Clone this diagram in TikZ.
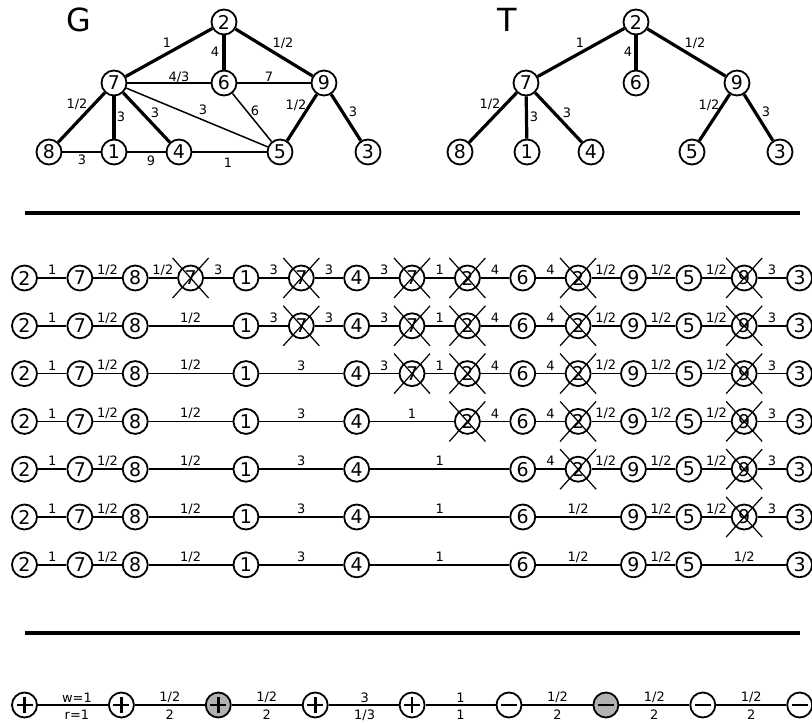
\documentclass[tikz,border=0pt]{standalone}
\usepackage{fontspec}
\setmainfont{DejaVu Sans}
\usetikzlibrary{positioning}

\begin{document}
\begin{tikzpicture}[x=1bp, y=-1bp,
        vert/.style={circle, draw, line width=1.8bp, minimum size=25bp, inner sep=0pt,
            fill=white, font=\fontsize{19}{19}\selectfont},
        wt/.style={font=\fontsize{13}{13}\selectfont, inner sep=0pt},
        heavy/.style={line width=3.2bp},
        light/.style={line width=1.5bp},
        chain/.style={line width=1.5bp},
        cross/.style={line width=1.2bp},
        rule/.style={line width=3.5bp},
        sign/.style={line width=2.6bp},
        pnode/.style={vert, path picture={
            \draw[sign] ([xshift=-8bp]path picture bounding box.center) -- ([xshift=8bp]path picture bounding box.center);
            \draw[sign] ([yshift=-8bp]path picture bounding box.center) -- ([yshift=8bp]path picture bounding box.center);}},
        mnode/.style={vert, path picture={
            \draw[sign] ([xshift=-8bp]path picture bounding box.center) -- ([xshift=8bp]path picture bounding box.center);}}
    ]
        \useasboundingbox (0,0) rectangle (812,723);

        % graph G
        \node[font=\fontsize{32}{32}\selectfont] (gname) at (79,20) {G};
        \node[vert] (g2) at (224,22) {2};
        \node[vert] (g7) at (114,83) {7};
        \node[vert] (g6) at (224,83) {6};
        \node[vert] (g9) at (324,83) {9};
        \node[vert] (g8) at (49,152) {8};
        \node[vert] (g1) at (114,152) {1};
        \node[vert] (g4) at (179,152) {4};
        \node[vert] (g5) at (280,152) {5};
        \node[vert] (g3) at (368,152) {3};

        \draw[heavy] (g2) -- node[wt, shift={(-2,-9.5)}] {1} (g7);
        \draw[heavy] (g2) -- node[wt, shift={(-9,-0.5)}] {4} (g6);
        \draw[heavy] (g2) -- node[wt, shift={(9,-9.5)}] {1/2} (g9);
        \draw[heavy] (g7) -- node[wt, shift={(-4.5,-13.5)}] {1/2} (g8);
        \draw[heavy] (g7) -- node[wt, shift={(7,-0.5)}] {3} (g1);
        \draw[heavy] (g7) -- node[wt, shift={(8.5,-4.5)}] {3} (g4);
        \draw[heavy] (g9) -- node[wt, shift={(-6,-12.5)}] {1/2} (g5);
        \draw[heavy] (g9) -- node[wt, shift={(7,-5.5)}] {3} (g3);
        \draw[light] (g7) -- node[wt, shift={(10,-6)}] {4/3} (g6);
        \draw[light] (g6) -- node[wt, shift={(-5,-6)}] {7} (g9);
        \draw[light] (g7) -- node[wt, shift={(6,-7.5)}] {3} (g5);
        \draw[light] (g6) -- node[wt, shift={(3,-6.5)}] {6} (g5);
        \draw[light] (g8) -- node[wt, shift={(0.5,8)}] {3} (g1);
        \draw[light] (g1) -- node[wt, shift={(4.5,9)}] {9} (g4);
        \draw[light] (g4) -- node[wt, shift={(-1.5,11)}] {1} (g5);

        % tree T
        \node[font=\fontsize{32}{32}\selectfont] (tname) at (507,20) {T};
        \node[vert] (t2) at (636,22) {2};
        \node[vert] (t7) at (526,83) {7};
        \node[vert] (t6) at (636,83) {6};
        \node[vert] (t9) at (737,83) {9};
        \node[vert] (t8) at (460,152) {8};
        \node[vert] (t1) at (527,152) {1};
        \node[vert] (t4) at (591,152) {4};
        \node[vert] (t5) at (692,152) {5};
        \node[vert] (t3) at (780,152) {3};

        \draw[heavy] (t2) -- node[wt, shift={(-1,-9.5)}] {1} (t7);
        \draw[heavy] (t2) -- node[wt, shift={(-8,-0.5)}] {4} (t6);
        \draw[heavy] (t2) -- node[wt, shift={(8.5,-9.5)}] {1/2} (t9);
        \draw[heavy] (t7) -- node[wt, shift={(-3,-13.5)}] {1/2} (t8);
        \draw[heavy] (t7) -- node[wt, shift={(7.5,-0.5)}] {3} (t1);
        \draw[heavy] (t7) -- node[wt, shift={(8.5,-4.5)}] {3} (t4);
        \draw[heavy] (t9) -- node[wt, shift={(-5.5,-12.5)}] {1/2} (t5);
        \draw[heavy] (t9) -- node[wt, shift={(7.5,-5.5)}] {3} (t3);

        \draw[rule] (25,213) -- (800,213);
        \draw[rule] (25,633) -- (800,633);

        % path rows
        \foreach \r/\vlist/\elist in {
            1/{0/2/0,1/7/0,2/8/0,3/7/1,4/1/0,5/7/1,6/4/0,7/7/1,8/2/1,9/6/0,10/2/1,11/9/0,12/5/0,13/9/1,14/3/0}/{0/1/1,1/2/{1/2},2/3/{1/2},3/4/3,4/5/3,5/6/3,6/7/3,7/8/1,8/9/4,9/10/4,10/11/{1/2},11/12/{1/2},12/13/{1/2},13/14/3},
            2/{0/2/0,1/7/0,2/8/0,4/1/0,5/7/1,6/4/0,7/7/1,8/2/1,9/6/0,10/2/1,11/9/0,12/5/0,13/9/1,14/3/0}/{0/1/1,1/2/{1/2},2/4/{1/2},4/5/3,5/6/3,6/7/3,7/8/1,8/9/4,9/10/4,10/11/{1/2},11/12/{1/2},12/13/{1/2},13/14/3},
            3/{0/2/0,1/7/0,2/8/0,4/1/0,6/4/0,7/7/1,8/2/1,9/6/0,10/2/1,11/9/0,12/5/0,13/9/1,14/3/0}/{0/1/1,1/2/{1/2},2/4/{1/2},4/6/3,6/7/3,7/8/1,8/9/4,9/10/4,10/11/{1/2},11/12/{1/2},12/13/{1/2},13/14/3},
            4/{0/2/0,1/7/0,2/8/0,4/1/0,6/4/0,8/2/1,9/6/0,10/2/1,11/9/0,12/5/0,13/9/1,14/3/0}/{0/1/1,1/2/{1/2},2/4/{1/2},4/6/3,6/8/1,8/9/4,9/10/4,10/11/{1/2},11/12/{1/2},12/13/{1/2},13/14/3},
            5/{0/2/0,1/7/0,2/8/0,4/1/0,6/4/0,9/6/0,10/2/1,11/9/0,12/5/0,13/9/1,14/3/0}/{0/1/1,1/2/{1/2},2/4/{1/2},4/6/3,6/9/1,9/10/4,10/11/{1/2},11/12/{1/2},12/13/{1/2},13/14/3},
            6/{0/2/0,1/7/0,2/8/0,4/1/0,6/4/0,9/6/0,11/9/0,12/5/0,13/9/1,14/3/0}/{0/1/1,1/2/{1/2},2/4/{1/2},4/6/3,6/9/1,9/11/{1/2},11/12/{1/2},12/13/{1/2},13/14/3},
            7/{0/2/0,1/7/0,2/8/0,4/1/0,6/4/0,9/6/0,11/9/0,12/5/0,14/3/0}/{0/1/1,1/2/{1/2},2/4/{1/2},4/6/3,6/9/1,9/11/{1/2},11/12/{1/2},12/14/{1/2}}%
        }{
            \foreach \c/\n/\k in \vlist {
                \node[vert] (p\r-\c) at ({24.5+55.36*\c},{278+47.8*(\r-1)}) {\n};
                \ifnum\k=1
                    \draw[cross] ([shift={(-18,-20)}]p\r-\c.center) -- ([shift={(18,20)}]p\r-\c.center);
                    \draw[cross] ([shift={(18,-20)}]p\r-\c.center) -- ([shift={(-18,20)}]p\r-\c.center);
                \fi
            }
            \foreach \a/\b/\w in \elist
                \draw[chain] (p\r-\a) -- node[wt, shift={(0,-8)}] {\w} (p\r-\b);
        }

        % signs
        \foreach \c/\s/\f in {0/pnode/white,1/pnode/white,2/pnode/black!30,3/pnode/white,4/pnode/white,5/mnode/white,6/mnode/black!30,7/mnode/white,8/mnode/white}
            \node[\s, fill=\f] (s\c) at ({24.5+96.9*\c},705) {};
        \foreach \a/\dx/\wa/\wb in {0/4/{w=1}/{r=1},1/0/{1/2}/2,2/0/{1/2}/2,3/1/3/{1/3},4/0/1/1,5/0/{1/2}/2,6/0/{1/2}/2,7/0/{1/2}/2} {
            \pgfmathtruncatemacro\nx{\a+1}
            \draw[chain] (s\a) -- node[wt, shift={(\dx,-7.5)}] {\wa} node[wt, shift={(\dx,10)}] {\wb} (s\nx);
        }
    \end{tikzpicture}
\end{document}
